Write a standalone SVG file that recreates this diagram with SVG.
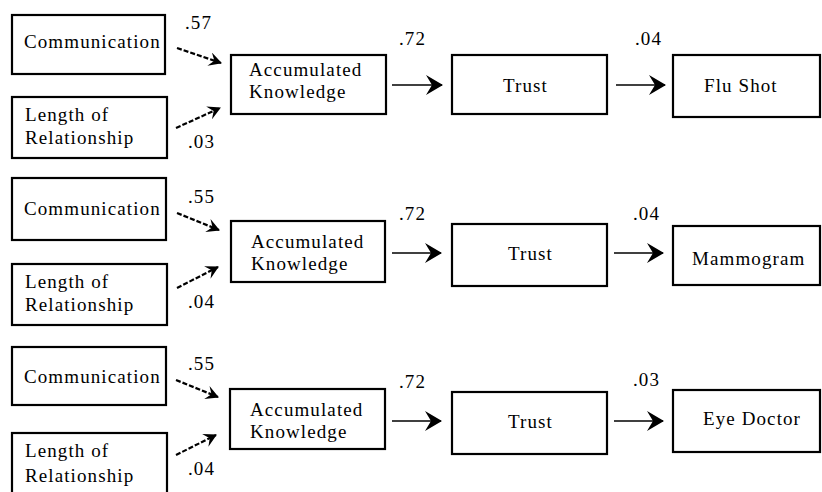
<svg xmlns="http://www.w3.org/2000/svg" width="822" height="492" viewBox="0 0 822 492">
<style>
.box{fill:#fff;stroke:#000;stroke-width:2.2}
.t{font-family:"Liberation Serif","Times New Roman",serif;font-size:19px;letter-spacing:1.1px;fill:#000}
.main{stroke:#000;stroke-width:1.6;fill:none;marker-end:url(#big)}
.dash{stroke:#000;stroke-width:2.2;stroke-dasharray:5 2;fill:none;marker-end:url(#small)}
</style>
<defs>
<marker id="big" viewBox="0 0 17 20" refX="16" refY="10" markerWidth="17" markerHeight="20" markerUnits="userSpaceOnUse" orient="auto">
<path d="M0,0 L17,10 L0,20 L6,10 Z" fill="#000"/>
</marker>
<marker id="small" viewBox="0 0 13 14" refX="12" refY="7" markerWidth="13" markerHeight="14" markerUnits="userSpaceOnUse" orient="auto">
<path d="M0,0 L13,7 L0,14 L5,7 Z" fill="#000"/>
</marker>
</defs>

<!-- Panel 1 -->
<g id="comm1"><rect class="box" x="12" y="15" width="153" height="59"/><text class="t" x="24" y="48">Communication</text></g>
<g id="len1"><rect class="box" x="12" y="97" width="155" height="61"/><text class="t" x="25" y="121">Length of</text><text class="t" x="25" y="144">Relationship</text></g>
<g id="ak1"><rect class="box" x="231" y="55" width="155" height="59"/><text class="t" x="249" y="76">Accumulated</text><text class="t" x="249" y="98">Knowledge</text></g>
<g id="trust1"><rect class="box" x="452" y="55" width="155" height="59"/><text class="t" x="503" y="92">Trust</text></g>
<g id="flu"><rect class="box" x="673" y="55" width="147" height="62"/><text class="t" x="704" y="92">Flu Shot</text></g>

<!-- Panel 2 -->
<g id="comm2"><rect class="box" x="12" y="178" width="154" height="62"/><text class="t" x="24" y="215">Communication</text></g>
<g id="len2"><rect class="box" x="12" y="264" width="155" height="61"/><text class="t" x="25" y="288">Length of</text><text class="t" x="25" y="311">Relationship</text></g>
<g id="ak2"><rect class="box" x="231" y="221" width="154" height="61"/><text class="t" x="251" y="248">Accumulated</text><text class="t" x="251" y="270">Knowledge</text></g>
<g id="trust2"><rect class="box" x="452" y="224" width="155" height="62"/><text class="t" x="508" y="260">Trust</text></g>
<g id="mammo"><rect class="box" x="673" y="226" width="147" height="59"/><text class="t" x="692" y="265">Mammogram</text></g>

<!-- Panel 3 -->
<g id="comm3"><rect class="box" x="12" y="347" width="154" height="58"/><text class="t" x="24" y="383">Communication</text></g>
<g id="len3"><rect class="box" x="12" y="433" width="155" height="70"/><text class="t" x="25" y="457">Length of</text><text class="t" x="25" y="482">Relationship</text></g>
<g id="ak3"><rect class="box" x="230" y="389" width="155" height="60"/><text class="t" x="250" y="416">Accumulated</text><text class="t" x="250" y="438">Knowledge</text></g>
<g id="trust3"><rect class="box" x="452" y="392" width="155" height="62"/><text class="t" x="508" y="428">Trust</text></g>
<g id="eye"><rect class="box" x="673" y="390" width="147" height="62"/><text class="t" x="703" y="425">Eye Doctor</text></g>

<g id="connectors">
<line class="dash" x1="177" y1="48" x2="221" y2="63"/>
<line class="dash" x1="176" y1="128" x2="220" y2="108"/>
<line class="main" x1="392" y1="85" x2="442" y2="85"/>
<line class="main" x1="616" y1="85" x2="665" y2="85"/>

<line class="dash" x1="177" y1="213" x2="219" y2="230"/>
<line class="dash" x1="177" y1="288" x2="218" y2="267"/>
<line class="main" x1="392" y1="253" x2="441" y2="253"/>
<line class="main" x1="614" y1="253" x2="663" y2="253"/>

<line class="dash" x1="176" y1="380" x2="218" y2="397"/>
<line class="dash" x1="176" y1="455" x2="216" y2="435"/>
<line class="main" x1="392" y1="421" x2="441" y2="421"/>
<line class="main" x1="614" y1="421" x2="663" y2="421"/>
</g>

<g id="labels">
<text class="t" x="185" y="29">.57</text>
<text class="t" x="188" y="148">.03</text>
<text class="t" x="399" y="45">.72</text>
<text class="t" x="635" y="45">.04</text>

<text class="t" x="188" y="203">.55</text>
<text class="t" x="188" y="308">.04</text>
<text class="t" x="399" y="220">.72</text>
<text class="t" x="633" y="220">.04</text>

<text class="t" x="188" y="370">.55</text>
<text class="t" x="188" y="475">.04</text>
<text class="t" x="399" y="388">.72</text>
<text class="t" x="633" y="386">.03</text>
</g>
</svg>
